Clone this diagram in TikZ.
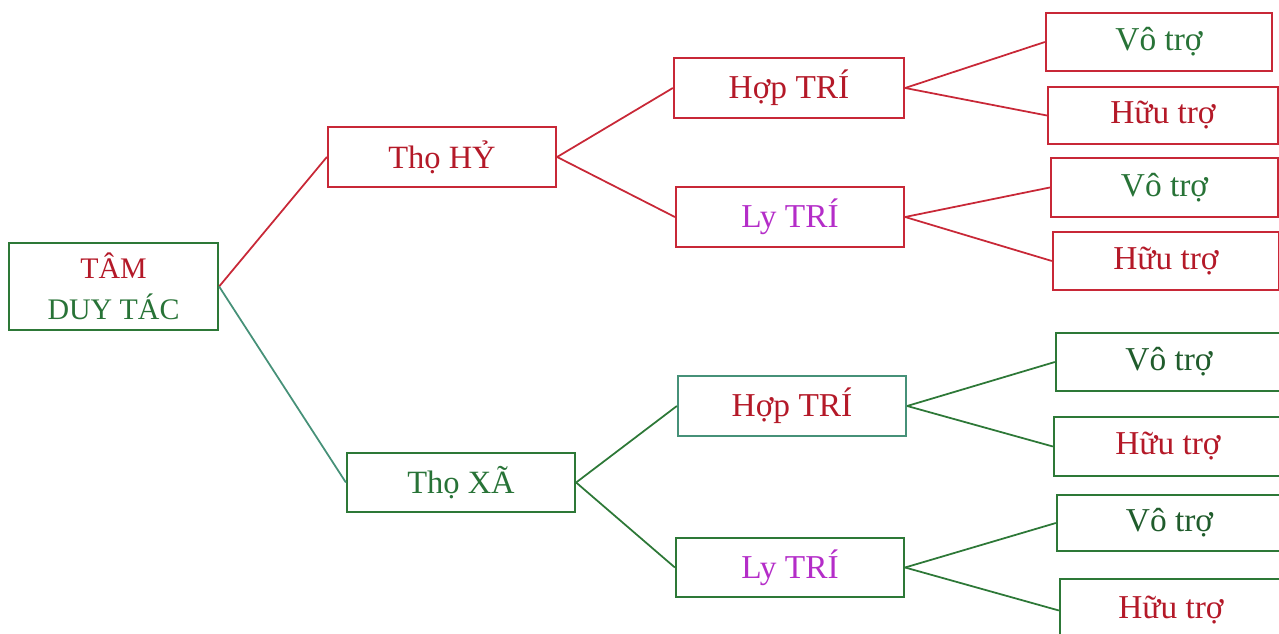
\documentclass[tikz,border=0pt]{standalone}
\usepackage{fontspec}
\setmainfont{Liberation Serif}
\definecolor{boxred}{RGB}{200,40,55}
\definecolor{txtred}{RGB}{180,25,40}
\definecolor{boxgreen}{RGB}{45,120,55}
\definecolor{txtgreen}{RGB}{40,115,55}
\definecolor{linkteal}{RGB}{70,145,120}
\definecolor{lymag}{RGB}{180,45,200}
\begin{document}
\begin{tikzpicture}[x=0.02cm,y=-0.02cm,line join=miter]
	\tikzset{box/.style={draw,rectangle,line width=1.3pt,inner sep=0pt,
			font=\fontsize{19}{23}\selectfont},
		rbox/.style={box,draw=boxred},
		gbox/.style={box,draw=boxgreen},
		boxsize/.style 2 args={minimum width=#1cm,minimum height=#2cm},
		link/.style={line width=1pt}}
	\useasboundingbox (0,0) rectangle (1279,634);
	\clip (0,0) rectangle (1279,634);
	% goc
	\node[gbox,boxsize={4.18}{1.74},align=center,font=\fontsize{17}{23}\selectfont] (root) at (113.5,286.5)
		{\textcolor{txtred}{TÂM}\\\textcolor{txtgreen}{DUY TÁC}};
	\node[rbox,boxsize={4.56}{1.2},text=txtred,font=\fontsize{18.5}{23}\selectfont] (hy) at (442,157) {Thọ HỶ};
	\node[gbox,boxsize={4.56}{1.18},text=txtgreen,font=\fontsize{18.5}{23}\selectfont] (xa) at (461,482.5) {Thọ XÃ};
	% tang 2
	\node[rbox,boxsize={4.6}{1.2},text=txtred] (hopA) at (789,88) {Hợp TRÍ};
	\node[rbox,boxsize={4.56}{1.2},text=lymag] (lyA) at (790,217) {Ly TRÍ};
	\node[box,draw=linkteal,boxsize={4.56}{1.2},text=txtred] (hopB) at (792,406) {Hợp TRÍ};
	\node[gbox,boxsize={4.56}{1.18},text=lymag] (lyB) at (790,567.5) {Ly TRÍ};
	% la
	\node[rbox,boxsize={4.52}{1.16},text=txtgreen] (vo1) at (1159,42) {Vô trợ};
	\node[rbox,boxsize={4.6}{1.14},text=txtred] (huu1) at (1163,115.5) {Hữu trợ};
	\node[rbox,boxsize={4.54}{1.18},text=txtgreen] (vo2) at (1164.5,187.5) {Vô trợ};
	\node[rbox,boxsize={4.52}{1.16},text=txtred] (huu2) at (1166,261) {Hữu trợ};
	\node[gbox,boxsize={4.52}{1.16},text=txtgreen!80!black] (vo3) at (1169,362) {Vô trợ};
	\node[gbox,boxsize={4.56}{1.18},text=txtred] (huu3) at (1168,446.5) {Hữu trợ};
	\node[gbox,boxsize={4.5}{1.12},text=txtgreen!80!black] (vo4) at (1169.5,523) {Vô trợ};
	\node[gbox,boxsize={4.44}{1.26},text=txtred] (huu4) at (1171,610.5) {Hữu trợ};
	% noi
	\draw[link,boxred] (root.east)--(hy.west);
	\draw[link,linkteal] (root.east)--(xa.west);
	\foreach \a/\b in {hy/hopA,hy/lyA,hopA/vo1,hopA/huu1,lyA/vo2,lyA/huu2}{
			\draw[link,boxred] (\a.east)--(\b.west);}
	\foreach \a/\b in {xa/hopB,xa/lyB,hopB/vo3,hopB/huu3,lyB/vo4,lyB/huu4}{
			\draw[link,boxgreen] (\a.east)--(\b.west);}
\end{tikzpicture}
\end{document}
